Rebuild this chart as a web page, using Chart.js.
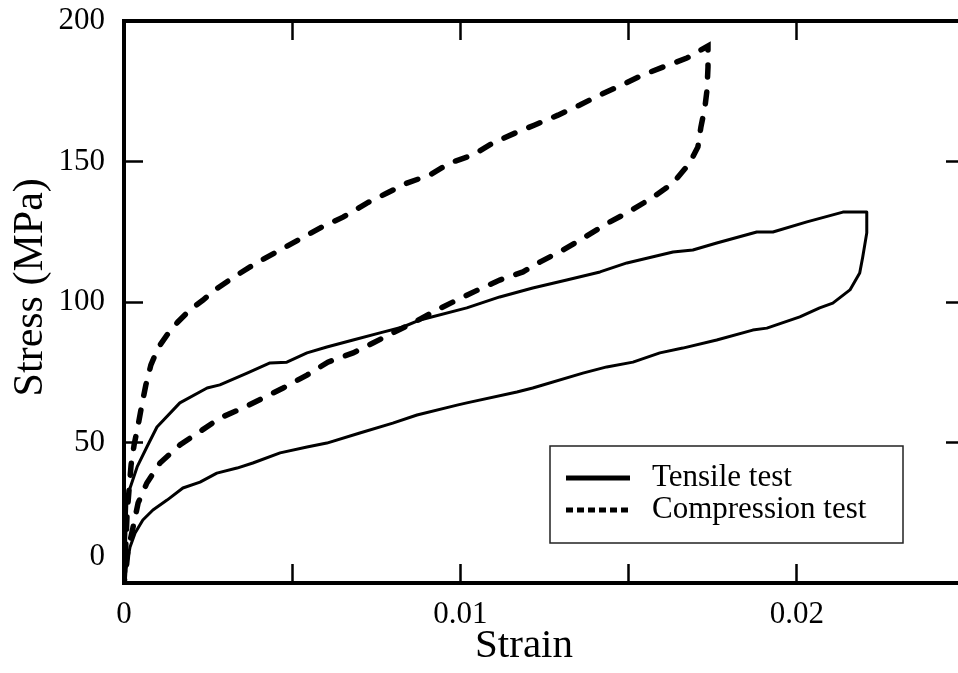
<!DOCTYPE html>
<html>
<head>
<meta charset="utf-8">
<script src="https://cdn.jsdelivr.net/npm/chart.js@4/dist/chart.umd.min.js"></script>
<style>
  html, body { margin: 0; padding: 0; background: #fff; overflow: hidden; }
  #wrap { width: 970px; height: 673px; }
</style>
</head>
<body>
<div id="wrap"><canvas id="stress-strain-chart" width="970" height="673"></canvas></div>
<script>
// values (strain, stress in MPa)
const tensileStrain = [0, 0.00003, 0.00006, 0.00009, 0.00039, 0.00068, 0.00098, 0.00166, 0.00247, 0.00285,
  0.00366, 0.00434, 0.00484, 0.00544, 0.00603, 0.00681, 0.00761, 0.00829, 0.0088, 0.01019,
  0.01117, 0.01215, 0.01316, 0.01415, 0.01495, 0.01632, 0.01691, 0.01762, 0.01881, 0.01929,
  0.0203, 0.02137, 0.02208, 0.02208, 0.02196, 0.02187, 0.02158, 0.02107, 0.02068, 0.02009,
  0.01911, 0.01869, 0.01762, 0.01661, 0.01593, 0.01513, 0.01435, 0.01364, 0.01215, 0.01168,
  0.01019, 0.0099, 0.00871, 0.00799, 0.00701, 0.00603, 0.00544, 0.00464, 0.00383, 0.00336,
  0.00276, 0.00226, 0.00175, 0.00128, 0.00086, 0.00056, 0.00033, 0.00018, 0.00009, 0.00003, 0];
const tensileStress = [0, 8.2, 18.9, 30.6, 41.3, 48.4, 55.5, 64.1, 69.4, 70.5,
  74.7, 78.3, 78.6, 81.9, 84.0, 86.5, 89.0, 91.1, 93.6, 97.9,
  101.8, 105.0, 107.8, 110.7, 113.9, 117.8, 118.5, 121.0, 124.9, 124.9,
  128.5, 132.0, 132.0, 124.6, 116.0, 110.3, 104.3, 99.6, 97.9, 94.7,
  90.7, 90.0, 86.5, 83.6, 81.9, 78.6, 76.9, 74.7, 69.4, 68.0,
  64.1, 63.3, 59.8, 56.9, 53.4, 49.8, 48.4, 46.3, 42.7, 40.9,
  39.1, 35.9, 33.8, 29.5, 26.0, 22.4, 17.8, 12.8, 7.1, 2.1, 0];

const compressionStrain = [0, 0.00003, 0.00006, 0.00009, 0.00015, 0.00021, 0.0003, 0.00042, 0.00053, 0.00065,
  0.0008, 0.00101, 0.00128, 0.0016, 0.00196, 0.00235, 0.0027, 0.00336, 0.00398, 0.00464,
  0.00529, 0.00588, 0.00651, 0.00722, 0.00782, 0.00841, 0.00909, 0.00969, 0.01037, 0.01097,
  0.01162, 0.01221, 0.0129, 0.01355, 0.01415, 0.0148, 0.01542, 0.01602, 0.01673, 0.01736,
  0.01736, 0.01733, 0.01727, 0.01715, 0.01706, 0.01682, 0.01632, 0.01569, 0.01495, 0.01438,
  0.0137, 0.01305, 0.01236, 0.01186, 0.01117, 0.01052, 0.0099, 0.0093, 0.00859, 0.00799,
  0.0074, 0.00681, 0.00606, 0.00544, 0.00473, 0.00413, 0.00354, 0.00285, 0.00232, 0.00166,
  0.00107, 0.00068, 0.00042, 0.00027, 0.00012, 0.00006, 0];
const compressionStress = [0, 6.4, 15.3, 24.2, 33.1, 42.0, 49.1, 56.2, 63.3, 70.5,
  77.6, 83.6, 88.3, 92.9, 97.2, 100.7, 104.3, 109.6, 114.2, 118.5,
  122.8, 126.7, 130.2, 135.2, 138.8, 142.3, 145.2, 149.5, 152.3, 156.6,
  160.1, 163.0, 166.5, 170.1, 173.7, 177.2, 180.8, 183.6, 186.8, 191.1,
  183.6, 175.4, 169.4, 162.3, 155.2, 149.5, 142.3, 137.0, 131.7, 128.1,
  123.1, 118.5, 114.2, 110.7, 107.8, 104.3, 100.7, 97.2, 92.5, 89.0,
  85.4, 81.9, 78.6, 74.0, 69.4, 65.8, 62.3, 58.7, 54.4, 49.1,
  42.7, 35.6, 28.5, 19.9, 11.7, 4.6, 0];

const seriesNames = ['Tensile test', 'Compression test'];
const strainLabels = [0, 0.01, 0.02];
const strainRange = [0, 0.025];
const stressRange = [0, 200];

const serif = 'Liberation Serif, Times New Roman, serif';
Chart.defaults.color = '#000';
Chart.defaults.font.family = serif;

function toPoints(xs, ys) {
  return xs.map((x, i) => ({ x: x, y: ys[i] }));
}

// the frame is pinned to the canvas, so drop the label overhang padding
function pinScale(scale, size) {
  if (scale.isHorizontal()) scale.height = size;
  else scale.width = size;
  scale.paddingTop = 0;
  scale.paddingBottom = 0;
  scale.paddingLeft = 0;
  scale.paddingRight = 0;
}

const ctx = document.querySelector('#stress-strain-chart');

const data = {
  datasets: [{
    label: seriesNames[0],
    data: toPoints(tensileStrain, tensileStress),
    borderColor: '#000',
    borderWidth: 3,
    pointRadius: 0,
    tension: 0,
    borderJoinStyle: 'round'
  }, {
    label: seriesNames[1],
    data: toPoints(compressionStrain, compressionStress),
    borderColor: '#000',
    borderWidth: 5.5,
    borderDash: [12, 15],
    borderCapStyle: 'round',
    pointRadius: 0,
    tension: 0
  }]
};

// inward tick marks on every side of the frame
const frameGrid = {
  drawOnChartArea: false,
  drawTicks: true,
  tickLength: -19,
  tickWidth: 2.5,
  tickColor: '#000'
};
const frameBorder = { display: true, color: '#000', width: 4 };

// legend box drawn inside the plot, lower right
const boxLegend = {
  id: 'boxLegend',
  afterDraw(chart) {
    const c = chart.ctx;
    const area = chart.chartArea;
    const left = area.left + 426, top = area.top + 425;
    const w = 353, h = 97;
    c.save();
    c.fillStyle = '#fff';
    c.fillRect(left, top, w, h);
    c.strokeStyle = '#222';
    c.lineWidth = 1.5;
    c.strokeRect(left, top, w, h);
    const rows = [top + 32, top + 64];
    chart.data.datasets.forEach((ds, i) => {
      c.beginPath();
      c.lineWidth = 5;
      c.strokeStyle = '#000';
      c.setLineDash(i === 0 ? [] : [7, 4]);
      c.moveTo(left + 16, rows[i]);
      c.lineTo(left + 80, rows[i]);
      c.stroke();
      c.setLineDash([]);
      c.fillStyle = '#000';
      c.font = '31px ' + serif;
      c.textBaseline = 'middle';
      c.fillText(ds.label, left + 102, rows[i]);
    });
    c.restore();
  }
};

const options = {
  responsive: false,
  animation: false,
  devicePixelRatio: 1,
  layout: { padding: 0 },
  plugins: {
    legend: { display: false },
    tooltip: { enabled: false }
  },
  scales: {
    x: {
      type: 'linear',
      position: 'bottom',
      min: strainRange[0],
      max: strainRange[1],
      grid: frameGrid,
      border: frameBorder,
      ticks: {
        stepSize: 0.005,
        padding: 32,
        maxRotation: 0,
        autoSkip: false,
        font: { size: 31 },
        callback: (v) => strainLabels.some(s => Math.abs(s - v) < 1e-9) ? String(v) : ''
      },
      title: {
        display: true,
        // trailing em space nudges the centred title a bit to the left, as in the figure
        text: 'Strain\u2003',
        font: { size: 41 },
        padding: { top: 0, bottom: 2 }
      },
      afterFit: (scale) => pinScale(scale, 90)
    },
    x2: {
      type: 'linear',
      position: 'top',
      min: strainRange[0],
      max: strainRange[1],
      grid: frameGrid,
      border: frameBorder,
      ticks: { display: false, stepSize: 0.005 },
      afterFit: (scale) => pinScale(scale, 21)
    },
    y: {
      type: 'linear',
      position: 'left',
      min: stressRange[0],
      max: stressRange[1],
      grid: frameGrid,
      border: frameBorder,
      ticks: {
        stepSize: 50,
        padding: 38,
        // the zero label sits a little above the frame corner
        font: (c) => ({ size: 31, lineHeight: (c.tick && c.tick.value === 0) ? 52 / 31 : 1.2 }),
        callback: (v) => v === 0 ? ['0', ''] : String(v)
      },
      title: {
        display: true,
        text: '\u2002\u2009Stress (MPa)',
        font: { size: 42 },
        padding: { top: 6, bottom: 0 }
      },
      afterFit: (scale) => pinScale(scale, 124)
    },
    y2: {
      type: 'linear',
      position: 'right',
      min: stressRange[0],
      max: stressRange[1],
      grid: frameGrid,
      border: frameBorder,
      ticks: { display: false, stepSize: 50 },
      afterFit: (scale) => pinScale(scale, 5)
    }
  }
};

const config = {
  type: 'line',
  data: data,
  options: options,
  plugins: [boxLegend]
};

new Chart(ctx, config);
</script>
</body>
</html>
